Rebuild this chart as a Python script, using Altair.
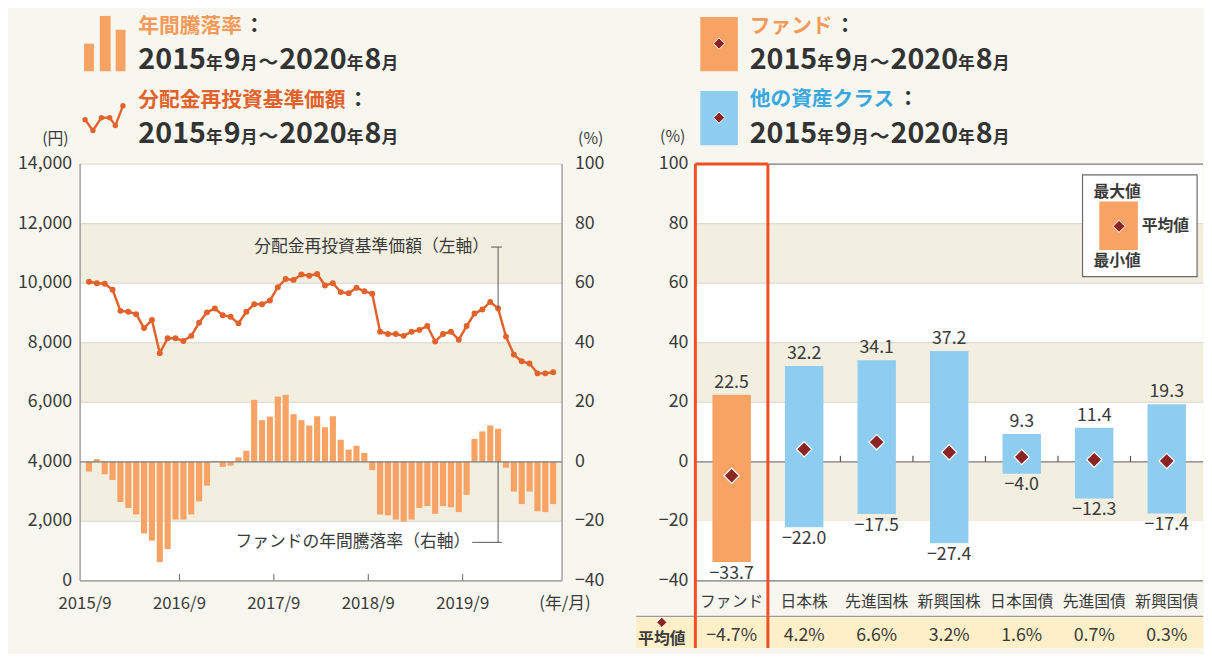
import altair as alt
import pandas as pd

# ---------------- data ----------------
price = [10050, 10000, 9980, 9780, 9070, 9040, 8960, 8490, 8760, 7650,
         8150, 8150, 8060, 8230, 8670, 9020, 9150, 8925, 8870, 8650,
         9040, 9290, 9290, 9420, 9865, 10140, 10110, 10290, 10250, 10310,
         9920, 10000, 9700, 9665, 9845, 9730, 9645, 8370, 8295, 8295,
         8230, 8370, 8430, 8560, 8040, 8295, 8370, 8100, 8560, 8980,
         9115, 9370, 9150, 8205, 7600, 7375, 7300, 6970, 6970, 7010]
change = [-3.3, 0.9, -4.2, -6.1, -13.5, -15.5, -17.7, -24.1, -26.5, -33.7,
          -29.3, -19.4, -19.4, -17.7, -13.3, -8.0, 0.3, -1.7, -1.3, 1.5,
          3.7, 20.8, 14.0, 15.2, 21.9, 22.5, 16.0, 14.0, 12.2, 15.3,
          11.6, 15.3, 7.4, 4.1, 5.4, 3.0, -2.8, -17.7, -18.0, -19.4,
          -20.1, -19.4, -15.5, -14.9, -17.5, -14.9, -15.3, -16.9, -11.1, 7.7,
          10.2, 12.2, 11.1, -2.0, -10.0, -14.2, -10.0, -16.6, -16.9, -14.2]
tick_idx = [0, 12, 24, 36, 48]
tick_labels = ["2015/9", "2016/9", "2017/9", "2018/9", "2019/9"]
yen_ticks = [0, 2000, 4000, 6000, 8000, 10000, 12000, 14000]
yen_bands_lo = [2000, 6000, 10000]
pct_ticks = [-40, -20, 0, 20, 40, 60, 80, 100]
pct_bands_lo = [-20, 20, 60]

categories = ["ファンド", "日本株", "先進国株", "新興国株", "日本国債", "先進国債", "新興国債"]
max_vals = [22.5, 32.2, 34.1, 37.2, 9.3, 11.4, 19.3]
min_vals = [-33.7, -22.0, -17.5, -27.4, -4.0, -12.3, -17.4]
mean_vals = [-4.7, 4.2, 6.6, 3.2, 1.6, 0.7, 0.3]

# ---------------- style ----------------
FONT = "Noto Sans CJK JP"
BG = "#f8f7ef"
TAN = "#f2efe1"
TXT = "#3a3a3a"
ORANGE = "#f8a263"
LINEC = "#e2622b"
BLUE = "#8ecdf0"
DRED = "#8c2424"
RED = "#f04e23"
YEL = "#fdf0c9"
GRID = "#d8d5cb"
AX = "#8a8a8a"

W1, H = 488, 422
W2 = 514
HB = 490  # bottom of drawing (relative to plot top)

one = pd.DataFrame({"a": [0]})
NOAXIS = alt.Axis(labels=False, ticks=False, domain=False, grid=False, title=None)

# right (%) axis of the left panel is linear in the left (yen) axis:
# -40 % <-> 0 yen, 100 % <-> 14,000 yen
PCT2YEN = "(datum.{f} + 40) * 100"


def minus(s):
    return s.replace("-", "−")


def vtext(text, x, y, size, color=TXT, weight="normal", align="left", baseline="middle"):
    return alt.Chart(one).mark_text(text=text, fontSize=size, color=color, fontWeight=weight,
                                    align=align, baseline=baseline).encode(
        x=alt.value(x), y=alt.value(y))


def vrect(x, x2, y, y2, **kw):
    return alt.Chart(one).mark_rect(**kw).encode(
        x=alt.value(x), x2=alt.value(x2), y=alt.value(y), y2=alt.value(y2))


def vrule(x, x2, y, y2, color, width=1.0):
    return alt.Chart(one).mark_rule(color=color, strokeWidth=width).encode(
        x=alt.value(x), x2=alt.value(x2), y=alt.value(y), y2=alt.value(y2))


def vdiamond(x, y, size=130):
    return alt.Chart(one).mark_point(shape="diamond", filled=True, fill=DRED, stroke="white",
                                     strokeWidth=1.0, size=size, opacity=1).encode(
        x=alt.value(x), y=alt.value(y))


def date_text(x0, y_base):
    big, small, wave = 29, 17, 20
    dw = 0.59 * big
    pieces = [("2015", big, 4 * dw), ("年", small, small + 1), ("9", big, dw),
              ("月", small, small + 1), ("～", wave, wave + 1), ("2020", big, 4 * dw),
              ("年", small, small + 1), ("8", big, dw), ("月", small, small + 1)]
    out = []
    x = x0
    for s, size, w in pieces:
        out.append(vtext(s, round(x, 1), y_base, size, color="#333333",
                         weight="bold", baseline="alphabetic"))
        x += w
    return out


# ---------------- left panel ----------------
ts = pd.DataFrame({"t": [i + 0.5 for i in range(60)], "price": price, "chg": change})
xs = alt.Scale(domain=[0, 60], nice=False, zero=False)
yen_s = alt.Scale(domain=[0, 14000], nice=False, zero=False)

yen_df = pd.DataFrame({"v": yen_ticks, "lbl": ["{:,}".format(v) for v in yen_ticks]})
pct_df = pd.DataFrame({"v": pct_ticks, "lbl": [minus(str(v)) for v in pct_ticks]})
xt_df = pd.DataFrame({"k": tick_idx, "lbl": tick_labels})

frameL = vrect(-73, 555, -154, HB, color=BG)
whiteL = vrect(0, W1, 0, H, color="white")
bandsL = alt.Chart(pd.DataFrame({"lo": yen_bands_lo})).transform_calculate(
    hi="datum.lo + 2000").mark_rect(color=TAN).encode(
    x=alt.value(0), x2=alt.value(W1),
    y=alt.Y("lo:Q", scale=yen_s, axis=NOAXIS), y2="hi:Q")
gridL = alt.Chart(yen_df[~yen_df.v.isin([0, 4000])]).mark_rule(color=GRID, strokeWidth=1).encode(
    x=alt.value(0), x2=alt.value(W1), y=alt.Y("v:Q", scale=yen_s, axis=None))
yenLab = alt.Chart(yen_df).mark_text(fontSize=18, color=TXT, align="right").encode(
    x=alt.value(-8), y=alt.Y("v:Q", scale=yen_s, axis=None), text="lbl:N")

barsL = alt.Chart(ts).transform_calculate(
    yv=PCT2YEN.format(f="chg"), y0="4000").mark_bar(size=6.2, color=ORANGE).encode(
    x=alt.X("t:Q", scale=xs, axis=NOAXIS),
    y=alt.Y("yv:Q", scale=yen_s, axis=None), y2="y0:Q")
zeroL = alt.Chart(pct_df[pct_df.v == 0]).transform_calculate(
    yv=PCT2YEN.format(f="v")).mark_rule(color="#7a7a7a", strokeWidth=1.2).encode(
    x=alt.value(0), x2=alt.value(W1), y=alt.Y("yv:Q", scale=yen_s, axis=None))
pctLab = alt.Chart(pct_df).transform_calculate(yv=PCT2YEN.format(f="v")).mark_text(
    fontSize=18, color=TXT, align="left").encode(
    x=alt.value(W1 + 13), y=alt.Y("yv:Q", scale=yen_s, axis=None), text="lbl:N")

lineL = alt.Chart(ts).mark_line(color=LINEC, strokeWidth=2.5).encode(
    x=alt.X("t:Q", scale=xs, axis=None),
    y=alt.Y("price:Q", scale=yen_s, axis=None))
ptsL = alt.Chart(ts).mark_point(filled=True, color=LINEC, size=36, opacity=1).encode(
    x=alt.X("t:Q", scale=xs, axis=None), y=alt.Y("price:Q", scale=yen_s, axis=None))
xticks = alt.Chart(xt_df[xt_df.k > 0]).mark_rule(color="#666", strokeWidth=1).encode(
    x=alt.X("k:Q", scale=xs, axis=None), y=alt.value(H - 7), y2=alt.value(H))
xLab = alt.Chart(xt_df).mark_text(fontSize=17, color=TXT).encode(
    x=alt.X("k:Q", scale=xs, axis=None), y=alt.value(445), text="lbl:N")
lead_pt = ts.iloc[[52]]
lead1v = alt.Chart(lead_pt).mark_rule(color="#555", strokeWidth=1).encode(
    x=alt.X("t:Q", scale=xs, axis=None), y=alt.Y("price:Q", scale=yen_s, axis=None),
    y2=alt.value(84))
lead2v = alt.Chart(lead_pt).mark_rule(color="#555", strokeWidth=1).encode(
    x=alt.X("t:Q", scale=xs, axis=None), y=alt.value(H * 100 / 140), y2=alt.value(383))
annL = [
    vrule(0, 0, 0, H, AX, 1.2),
    vrule(W1, W1, 0, H, AX, 1.2),
    vrule(0, W1, H, H, AX, 1.2),
    vtext("分配金再投資基準価額（左軸）", 414, 84, 17, align="right"),
    vrule(416, 427, 84, 84, "#555"),
    vtext("ファンドの年間騰落率（右軸）", 395, 383, 17, align="right"),
    vrule(397, 427, 383, 383, "#555"),
    vtext("(年/月)", 491, 445, 17, align="center"),
    vtext("(円)", -25, -25, 16, align="center"),
    vtext("(%)", 517, -25, 16, align="center"),
]
# header (legend) of left panel
hdrL = [
    vrect(4, 14, -122, -94, color=ORANGE),
    vrect(20, 31, -150, -94, color=ORANGE),
    vrect(36, 46, -136, -94, color=ORANGE),
    vtext("年間騰落率", 59, -139, 21, color="#f59a58", weight="bold"),
    vtext("：", 166, -139, 21, color="#333", weight="bold"),
    vtext("分配金再投資基準価額", 59, -64, 21, color=LINEC, weight="bold"),
    vtext("：", 271, -64, 21, color="#333", weight="bold"),
]
icon_pts = [(5, -45), (13, -34), (21.6, -47), (30, -47), (35.7, -39), (43.4, -59)]
for (a, b), (c, d) in zip(icon_pts[:-1], icon_pts[1:]):
    hdrL.append(vrule(a, c, b, d, LINEC, 2.4))
for a, b in icon_pts:
    hdrL.append(alt.Chart(one).mark_point(filled=True, color=LINEC, size=30, opacity=1).encode(
        x=alt.value(a), y=alt.value(b)))
hdrL += date_text(59, -96) + date_text(59, -21)

left = alt.layer(frameL, whiteL, bandsL, gridL, yenLab, barsL, zeroL, pctLab,
                 lineL, ptsL, xticks, xLab, lead1v, lead2v, *annL, *hdrL).properties(
    width=W1, height=H)

# ---------------- right panel ----------------
def fmt(v):
    return minus("%.1f" % v)


rp = pd.DataFrame({
    "cat": categories, "max": max_vals, "min": min_vals, "mean": mean_vals,
    "grp": ["fund"] + ["other"] * (len(categories) - 1),
    "max_lbl": [fmt(v) for v in max_vals],
    "min_lbl": [fmt(v) for v in min_vals],
    "mean_lbl": [fmt(v) + "%" for v in mean_vals],
})
xcs = alt.Scale(domain=categories, paddingInner=0, paddingOuter=0)
yR = alt.Scale(domain=[-40, 100], range=[H, 0], nice=False, zero=False)
xR = alt.X("cat:N", scale=xcs, axis=None, sort=categories)

frameR = vrect(-60, W2, -154, HB, color=BG)
whiteR = vrect(0, W2, 0, H, color="white")
bandsR = alt.Chart(pd.DataFrame({"lo": pct_bands_lo})).transform_calculate(
    hi="datum.lo + 20").mark_rect(color=TAN).encode(
    x=alt.value(0), x2=alt.value(W2),
    y=alt.Y("lo:Q", scale=yR, axis=NOAXIS), y2="hi:Q")
gridR = alt.Chart(pct_df[pct_df.v.isin([20, 40, 60, 80])]).mark_rule(color=GRID, strokeWidth=1).encode(
    x=alt.value(0), x2=alt.value(W2), y=alt.Y("v:Q", scale=yR, axis=None))
darkR = alt.Chart(pct_df[pct_df.v.isin([-40, 0, 100])]).mark_rule(color="#7a7a7a", strokeWidth=1.2).encode(
    x=alt.value(0), x2=alt.value(W2), y=alt.Y("v:Q", scale=yR, axis=None))
yLabR = alt.Chart(pct_df).mark_text(fontSize=18, color=TXT, align="right").encode(
    x=alt.value(-7), y=alt.Y("v:Q", scale=yR, axis=None), text="lbl:N")
axR = vrule(0, 0, 0, H, AX, 1.2)
zticks = alt.Chart(pd.DataFrame({"cat": categories[2:]})).mark_rule(color="#555", strokeWidth=1.2).encode(
    x=alt.X("cat:N", scale=xcs, axis=None, bandPosition=0),
    y=alt.datum(0), y2=alt.datum(2))
barsR = alt.Chart(rp).mark_bar(width=alt.RelativeBandSize(0.53)).encode(
    x=alt.X("cat:N", scale=xcs, axis=NOAXIS, sort=categories),
    y=alt.Y("min:Q", scale=yR, axis=None), y2="max:Q",
    color=alt.Color("grp:N", scale=alt.Scale(domain=["fund", "other"], range=[ORANGE, BLUE]),
                    legend=None))
meanR = alt.Chart(rp).mark_point(shape="diamond", filled=True, fill=DRED, stroke="white",
                                 strokeWidth=1.2, size=240, opacity=1).encode(
    x=xR, y=alt.Y("mean:Q", scale=yR, axis=None))
maxT = alt.Chart(rp).mark_text(fontSize=18, color=TXT, baseline="bottom", dy=-3).encode(
    x=xR, y=alt.Y("max:Q", scale=yR, axis=None), text="max_lbl:N")
minT = alt.Chart(rp).mark_text(fontSize=18, color=TXT, baseline="top", dy=3).encode(
    x=xR, y=alt.Y("min:Q", scale=yR, axis=None), text="min_lbl:N")
catT = alt.Chart(rp).mark_text(fontSize=16, color=TXT).encode(
    x=xR, y=alt.value(443), text="cat:N")
table_bg = [
    vrect(-60, W2, 459, HB, color=YEL),
    vrule(-60, W2, 458, 458, "#9a9a9a", 1.2),
]
meanT = alt.Chart(rp).mark_text(fontSize=18, color=TXT).encode(
    x=xR, y=alt.value(478), text="mean_lbl:N")
fund = rp[rp.grp == "fund"]
red_l = alt.Chart(fund).mark_rule(color=RED, strokeWidth=3).encode(
    x=alt.X("cat:N", scale=xcs, axis=None, bandPosition=0), y=alt.value(0), y2=alt.value(HB))
red_r = alt.Chart(fund).mark_rule(color=RED, strokeWidth=3).encode(
    x=alt.X("cat:N", scale=xcs, axis=None, bandPosition=1), y=alt.value(0), y2=alt.value(HB))
red_t = vrule(0, W2 / len(categories), 0, 0, RED, 3)
legend_box = [
    vrect(392, 508, 11, 114, fill="white", stroke="#6a6a6a", strokeWidth=1.2),
    vtext("最大値", 403, 28, 16, weight="bold"),
    vrect(409, 448, 38, 87, color=ORANGE),
    vdiamond(429, 63, 150),
    vtext("平均値", 452, 63, 16, weight="bold"),
    vtext("最小値", 403, 98, 16, weight="bold"),
]
side = [
    vdiamond(-34, 464, 110),
    vtext("平均値", -34, 481, 16, align="center", weight="bold"),
]
hdrR = [
    vtext("(%)", -23, -27, 16, align="center"),
    vrect(5, 43, -149, -94, color=ORANGE),
    vdiamond(24, -122, 130),
    vrect(5, 43, -74, -19, color=BLUE),
    vdiamond(24, -47, 130),
    vtext("ファンド", 55, -139, 21, color="#f59a58", weight="bold"),
    vtext("：", 141, -139, 21, color="#333", weight="bold"),
    vtext("他の資産クラス", 55, -65, 21, color="#3aa8df", weight="bold"),
    vtext("：", 205, -65, 21, color="#333", weight="bold"),
] + date_text(55, -96) + date_text(55, -21)

right = alt.layer(frameR, whiteR, bandsR, gridR, darkR, axR, yLabR, zticks, barsR, meanR, maxT,
                  minT, *table_bg, catT, meanT, red_l, red_r, red_t, *legend_box, *side,
                  *hdrR).properties(width=W2, height=HB)

chart = alt.hconcat(left, right, spacing=7).properties(
    padding=0, background=BG).configure_view(stroke=None).configure_text(font=FONT)

chart.save("out.html", embed_options={"renderer": "svg", "actions": False})
